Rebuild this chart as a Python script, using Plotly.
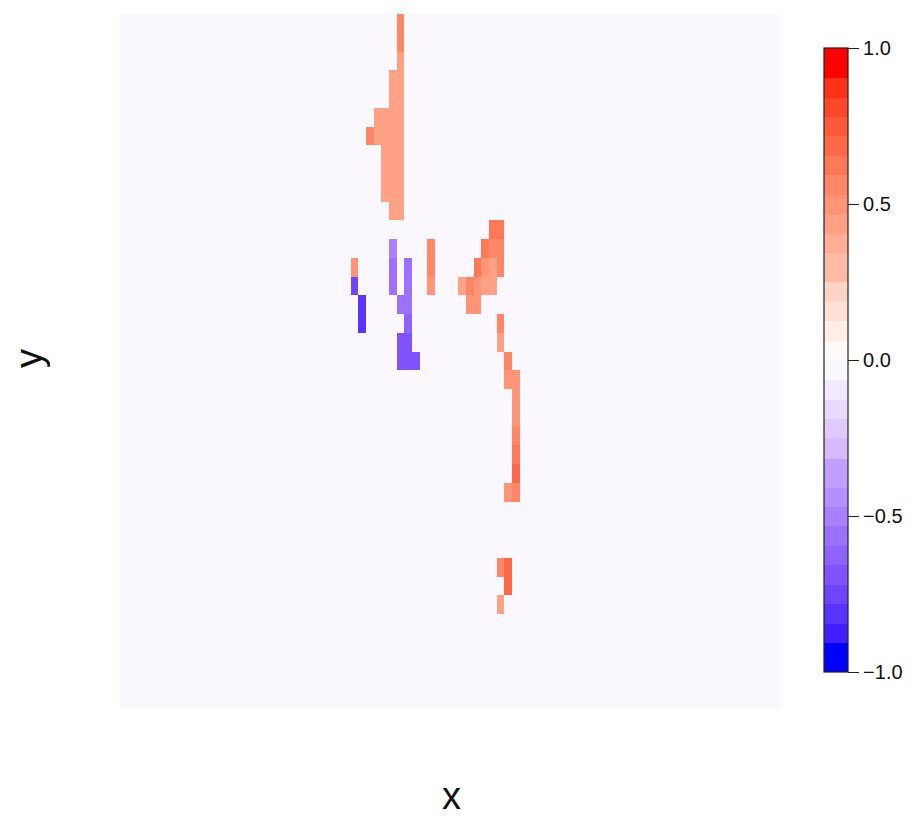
import numpy as np
import plotly.graph_objects as go

# ---------------- data ----------------
n_cols = 86
n_rows = 37
background_value = -0.03

cell_col = [36, 36, 36, 36, 36, 36, 36, 36, 36, 36, 36,
            35, 35, 35, 35, 35, 35, 35, 35,
            34, 34, 34, 34, 34,
            33, 33, 32,
            30, 30, 31, 31,
            35, 35, 35,
            36, 36, 36,
            37, 37, 37, 37, 37, 37,
            38,
            40, 40, 40,
            48, 49,
            47, 48, 49,
            46, 47, 48, 49,
            44, 45, 46, 47, 48,
            45, 46,
            49, 49,
            50,
            50, 51,
            51, 51, 51, 51, 51,
            50, 51,
            49, 50, 50,
            49]
cell_row = [0, 1, 2, 3, 4, 5, 6, 7, 8, 9, 10,
            3, 4, 5, 6, 7, 8, 9, 10,
            5, 6, 7, 8, 9,
            5, 6, 6,
            13, 14, 15, 16,
            12, 13, 14,
            15, 17, 18,
            13, 14, 15, 16, 17, 18,
            18,
            12, 13, 14,
            11, 11,
            12, 12, 12,
            13, 13, 13, 13,
            14, 14, 14, 14, 14,
            15, 15,
            16, 17,
            18,
            19, 19,
            20, 21, 22, 23, 24,
            25, 25,
            29, 29, 30,
            31]
cell_val = [0.56, 0.56, 0.44, 0.44, 0.44, 0.44, 0.44, 0.44, 0.44, 0.44, 0.44,
            0.44, 0.44, 0.44, 0.44, 0.44, 0.44, 0.44, 0.44,
            0.44, 0.44, 0.44, 0.44, 0.44,
            0.44, 0.44, 0.56,
            0.50, -0.75, -0.81, -0.81,
            -0.50, -0.56, -0.56,
            -0.56, -0.69, -0.69,
            -0.56, -0.56, -0.56, -0.625, -0.69, -0.69,
            -0.72,
            0.56, 0.56, 0.50,
            0.62, 0.62,
            0.62, 0.56, 0.56,
            0.62, 0.50, 0.44, 0.56,
            0.44, 0.56, 0.50, 0.44, 0.44,
            0.50, 0.50,
            0.56, 0.44,
            0.56,
            0.50, 0.50,
            0.50, 0.50, 0.56, 0.62, 0.69,
            0.50, 0.56,
            0.56, 0.69, 0.69,
            0.44]

# colour band boundaries (top of bar to bottom)
band_bounds = [1.0, 0.904, 0.840, 0.779, 0.717, 0.655, 0.592, 0.530, 0.466,
               0.405, 0.343, 0.249, 0.188, 0.124, 0.060, 0.0, -0.065, -0.127,
               -0.190, -0.251, -0.316, -0.409, -0.471, -0.532, -0.596, -0.658,
               -0.721, -0.783, -0.845, -0.906, -1.0]
band_palette_index = [31, 30, 29, 28, 27, 26, 25, 24, 23, 22, 21, 19, 18, 17, 16,
                      15, 14, 13, 12, 11, 9, 8, 7, 6, 5, 4, 3, 2, 1, 0]
tick_vals = [-1.0, -0.5, 0.0, 0.5, 1.0]
tick_text = ["\u22121.0", "\u22120.5", "0.0", "0.5", "1.0"]

# ---------------- colour ramp (blue - white - red, Lab interpolation) ----------------
def srgb_to_lin(c):
    c = c / 255.0
    return np.where(c <= 0.04045, c / 12.92, ((c + 0.055) / 1.055) ** 2.4)

def lin_to_srgb(c):
    c = np.clip(c, 0, 1)
    return np.where(c <= 0.0031308, 12.92 * c, 1.055 * c ** (1 / 2.4) - 0.055)

M = np.array([[0.4124, 0.3576, 0.1805], [0.2126, 0.7152, 0.0722], [0.0193, 0.1192, 0.9505]])
Minv = np.linalg.inv(M)
WHITE = np.array([0.95047, 1.0, 1.08883])

def f(t):
    return np.where(t > 216 / 24389, np.cbrt(t), (24389 / 27 * t + 16) / 116)

def finv(t):
    return np.where(t ** 3 > 216 / 24389, t ** 3, (116 * t - 16) / (24389 / 27))

def rgb_to_lab(rgb):
    xyz = M @ srgb_to_lin(np.array(rgb, float)) / WHITE
    fx, fy, fz = f(xyz)
    return np.array([116 * fy - 16, 500 * (fx - fy), 200 * (fy - fz)])

def lab_to_hex(lab):
    L, a, b = lab
    fy = (L + 16) / 116
    fx = fy + a / 500
    fz = fy - b / 200
    xyz = np.array([finv(fx), finv(fy), finv(fz)]) * WHITE
    rgb = lin_to_srgb(Minv @ xyz)
    r, g, bb = [int(round(float(v) * 255)) for v in rgb]
    return "#%02x%02x%02x" % (r, g, bb)

lab_blue = rgb_to_lab([0, 0, 255])
lab_white = rgb_to_lab([255, 255, 255])
lab_red = rgb_to_lab([255, 0, 0])

def ramp(t):
    if t <= 0.5:
        u = t / 0.5
        return lab_to_hex(lab_blue + (lab_white - lab_blue) * u)
    u = (t - 0.5) / 0.5
    return lab_to_hex(lab_white + (lab_red - lab_white) * u)

palette = [ramp(i / 31) for i in range(32)]

colorscale = []
for k in range(len(band_bounds) - 1, 0, -1):
    lo = band_bounds[k]
    hi = band_bounds[k - 1]
    col = palette[band_palette_index[k - 1]]
    colorscale.append([(lo + 1) / 2, col])
    colorscale.append([(hi + 1) / 2, col])
colorscale[0][0] = 0.0
colorscale[-1][0] = 1.0

# ---------------- grid ----------------
z = np.full((n_rows, n_cols), background_value)
for c, r, v in zip(cell_col, cell_row, cell_val):
    z[r, c] = v

# the page body adds an 8px offset; the figure is sized to compensate
OFF = 8
plot_l, plot_t, plot_w, plot_h = 120 - OFF, 14 - OFF, 661, 694
fig_w, fig_h = 923 - OFF, 818 - OFF

font_family = "Liberation Sans, Arial, Helvetica, sans-serif"

fig = go.Figure(go.Heatmap(
    z=z,
    x=np.arange(n_cols),
    y=np.arange(n_rows),
    zmin=-1, zmax=1,
    colorscale=colorscale,
    hoverinfo="skip",
    colorbar=dict(
        x=(824 - 120) / plot_w, xanchor="left", xpad=0,
        y=(708 - 360) / plot_h, yanchor="middle", ypad=0,
        len=624, lenmode="pixels",
        thickness=24, thicknessmode="pixels",
        outlinecolor="#222222", outlinewidth=1.2,
        tickmode="array", tickvals=tick_vals, ticktext=tick_text,
        ticks="outside", ticklen=11, tickwidth=1.2, tickcolor="#222222",
        tickfont=dict(family=font_family, size=20, color="#111111"),
    ),
))

fig.update_layout(
    width=fig_w, height=fig_h,
    margin=dict(l=plot_l, r=fig_w - plot_l - plot_w, t=plot_t, b=fig_h - plot_t - plot_h),
    paper_bgcolor="white", plot_bgcolor="white",
    xaxis=dict(range=[-0.5, n_cols - 0.5], showticklabels=False, showgrid=False,
               zeroline=False, ticks="", showline=False),
    yaxis=dict(range=[n_rows - 0.5, -0.5], showticklabels=False, showgrid=False,
               zeroline=False, ticks="", showline=False),
    annotations=[
        dict(text="x", xref="paper", yref="paper", x=(451 - 120) / plot_w, y=-(796 - 708) / plot_h,
             xanchor="center", yanchor="middle", showarrow=False,
             font=dict(family=font_family, size=38, color="#111111")),
        dict(text="y", xref="paper", yref="paper", x=-(120 - 29) / plot_w, y=(708 - 358) / plot_h,
             xanchor="center", yanchor="middle", showarrow=False, textangle=-90,
             font=dict(family=font_family, size=38, color="#111111")),
    ],
)

fig.write_html("out.html")
